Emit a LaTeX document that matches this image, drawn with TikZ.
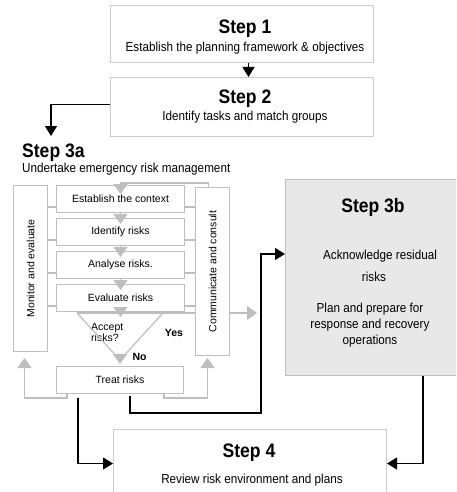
\documentclass[tikz,border=0pt]{standalone}
\usepackage{fontspec}
\setmainfont{Liberation Sans}
\newfontfamily\narrowfont[FakeStretch=0.9]{Liberation Sans}
\usetikzlibrary{positioning, arrows.meta}
\definecolor{lgray}{RGB}{190,190,190}
\definecolor{boxgray}{RGB}{204,204,204}
\definecolor{fillgray}{RGB}{232,232,232}

\begin{document}
\begin{tikzpicture}[x=1pt, y=-1pt,
    stepbox/.style={draw=boxgray, line width=1pt, anchor=north west},
    steptitle/.style={font=\narrowfont\bfseries\fontsize{19.5}{20}\selectfont, anchor=base, inner sep=0pt},
    steptext/.style={font=\narrowfont\fontsize{13}{15}\selectfont, anchor=base, inner sep=0pt},
    procbox/.style={draw=lgray, line width=1pt, minimum width=128pt, minimum height=27pt, inner sep=0pt, font=\fontsize{10.5}{12}\selectfont},
    sidebox/.style={draw=lgray, line width=1pt, fill=white, anchor=north west},
    sidetext/.style={rotate=90, font=\fontsize{10.5}{12}\selectfont},
    smalltext/.style={font=\fontsize{10.5}{11}\selectfont, inner sep=0pt},
    gline/.style={draw=lgray, line width=1.2pt},
    garrow/.style={gline, -{Triangle[length=10pt, width=14pt]}},
    barrow/.style={draw=black, line width=1.2pt, -{Triangle[length=10pt, width=12pt]}}]

  \path[use as bounding box] (0,0) rectangle (456,492);
  \clip (0,0) rectangle (456,492);

  % steps 1 and 2
  \node[stepbox, minimum width=263pt, minimum height=57pt] (S1) at (110,5) {};
  \node[steptitle] (S1t) at (245,34) {Step 1};
  \node[steptext] (S1d) at (245,51.5) {Establish the planning framework \& objectives};
  \node[stepbox, minimum width=263pt, minimum height=59pt] (S2) at (110,77) {};
  \node[steptitle] (S2t) at (245,104) {Step 2};
  \node[steptext] (S2d) at (245,121) {Identify tasks and match groups};
  \node[steptitle, anchor=base west] (S3at) at (22,157.5) {Step 3a};
  \node[steptext, anchor=base west] (S3ad) at (22,172) {Undertake emergency risk management};

  % step 3b
  \node[stepbox, draw=lgray, fill=fillgray, minimum width=175pt, minimum height=196pt] (S3b) at (285,179) {};
  \node[steptitle] (S3bt) at (373,212.5) {Step 3b};
  \node[steptext] (S3b1) at (380,259.5) {Acknowledge residual};
  \node[steptext] (S3b2) at (374,281.5) {risks};
  \node[steptext] (S3b3) at (370,312.5) {Plan and prepare for};
  \node[steptext] (S3b4) at (370,328.5) {response and recovery};
  \node[steptext] (S3b5) at (370,344.5) {operations};

  % step 4
  \node[stepbox, minimum width=273pt, minimum height=68pt] (S4) at (113,429) {};
  \node[steptitle] (S4t) at (249,457) {Step 4};
  \node[steptext] (S4d) at (252,483) {Review risk environment and plans};

  % risk process
  \node[procbox, anchor=north west] (Est) at (56,185) {Establish the context};
  \node[procbox, below=5pt of Est] (Ide) {Identify risks};
  \node[procbox, below=5pt of Ide] (Ana) {Analyse risks.};
  \node[procbox, below=5pt of Ana] (Eva) {Evaluate risks};
  \node[procbox, anchor=north west, minimum width=127pt] (Trt) at (56,366) {Treat risks};
  \coordinate (TL) at (77,313);
  \coordinate (TR) at (163,313);
  \coordinate (TB) at (120,360);
  \node[smalltext, align=left, anchor=west] (Acc) at (91,332.5) {Accept\\risks?};
  \node[smalltext, font=\bfseries\fontsize{10.5}{11}\selectfont] (Yes) at (174,333) {Yes};
  \node[smalltext, font=\bfseries\fontsize{10.5}{11}\selectfont] (No) at (139.5,357) {No};

  \draw[garrow, shorten >=28pt] (TL) -- (TL -| S3b.west);

  \node[sidebox, minimum width=34pt, minimum height=166pt] (Mon) at (13,185) {};
  \node[sidetext] (Mont) at (Mon.center) {Monitor and evaluate};
  \node[sidebox, minimum width=34pt, minimum height=168pt] (Com) at (195,187) {};
  \node[sidetext] (Comt) at (Com.center) {Communicate and consult};

  \draw[gline] ([yshift=6pt]Est.south west) -- ([yshift=6pt]Est.south west -| Mon.east);
  \draw[gline] ([yshift=6pt]Ide.south west) -- ([yshift=6pt]Ide.south west -| Mon.east);
  \draw[gline] ([yshift=6pt]Ana.south west) -- ([yshift=6pt]Ana.south west -| Mon.east);
  \draw[gline] ([yshift=6pt]Eva.south west) -- ([yshift=6pt]Eva.south west -| Mon.east);
  \draw[gline] ([yshift=6pt]Est.south east) -- ([yshift=6pt]Est.south east -| Com.west);
  \draw[gline] ([yshift=6pt]Ide.south east) -- ([yshift=6pt]Ide.south east -| Com.west);
  \draw[gline] ([yshift=6pt]Ana.south east) -- ([yshift=6pt]Ana.south east -| Com.west);
  \draw[gline] ([yshift=6pt]Eva.south east) -- ([yshift=6pt]Eva.south east -| Com.west);

  \draw[garrow, shorten >=-9pt] ([xshift=-4pt]Com.north) -- ++(0,-4) -| (Est.north);
  \draw[garrow, shorten >=-6pt] (Est) -- (Ide);
  \draw[garrow, shorten >=-6pt] (Ide) -- (Ana);
  \draw[garrow, shorten >=-6pt] (Ana) -- (Eva);
  \draw[garrow, shorten >=-4pt] (Eva.south) -- (Eva.south |- TL);
  \draw[gline] (TL) -- (TB) -- (TR);
  \draw[garrow, shorten >=2pt] (TB) -- (Trt.north);
  \draw[garrow, shorten >=6pt] ([xshift=11pt]Trt.south west) -- ++(0,4) -| ([xshift=-6pt]Mon.south);
  \draw[garrow, shorten >=2pt] ([xshift=-20pt]Trt.south east) -- ++(0,4) -| ([xshift=-5pt]Com.south);

  % black flow
  \coordinate (in3a) at (51,136);
  \coordinate (c1) at (261,413);
  \draw[barrow] ([xshift=6.5pt]S1.south) -- ([xshift=6.5pt]S2.north);
  \draw[barrow] ([yshift=2.5pt]S2.west) -| (in3a);
  \draw[barrow] ([xshift=22pt, yshift=-4pt]Trt.south west) |- (S4.west);
  \draw[barrow] ([xshift=74pt, yshift=-2pt]Trt.south west) |- (c1) |- ([yshift=-75pt]S3b.north west);
  \draw[barrow] ([xshift=50pt]S3b.south) |- (S4.east);
\end{tikzpicture}
\end{document}
